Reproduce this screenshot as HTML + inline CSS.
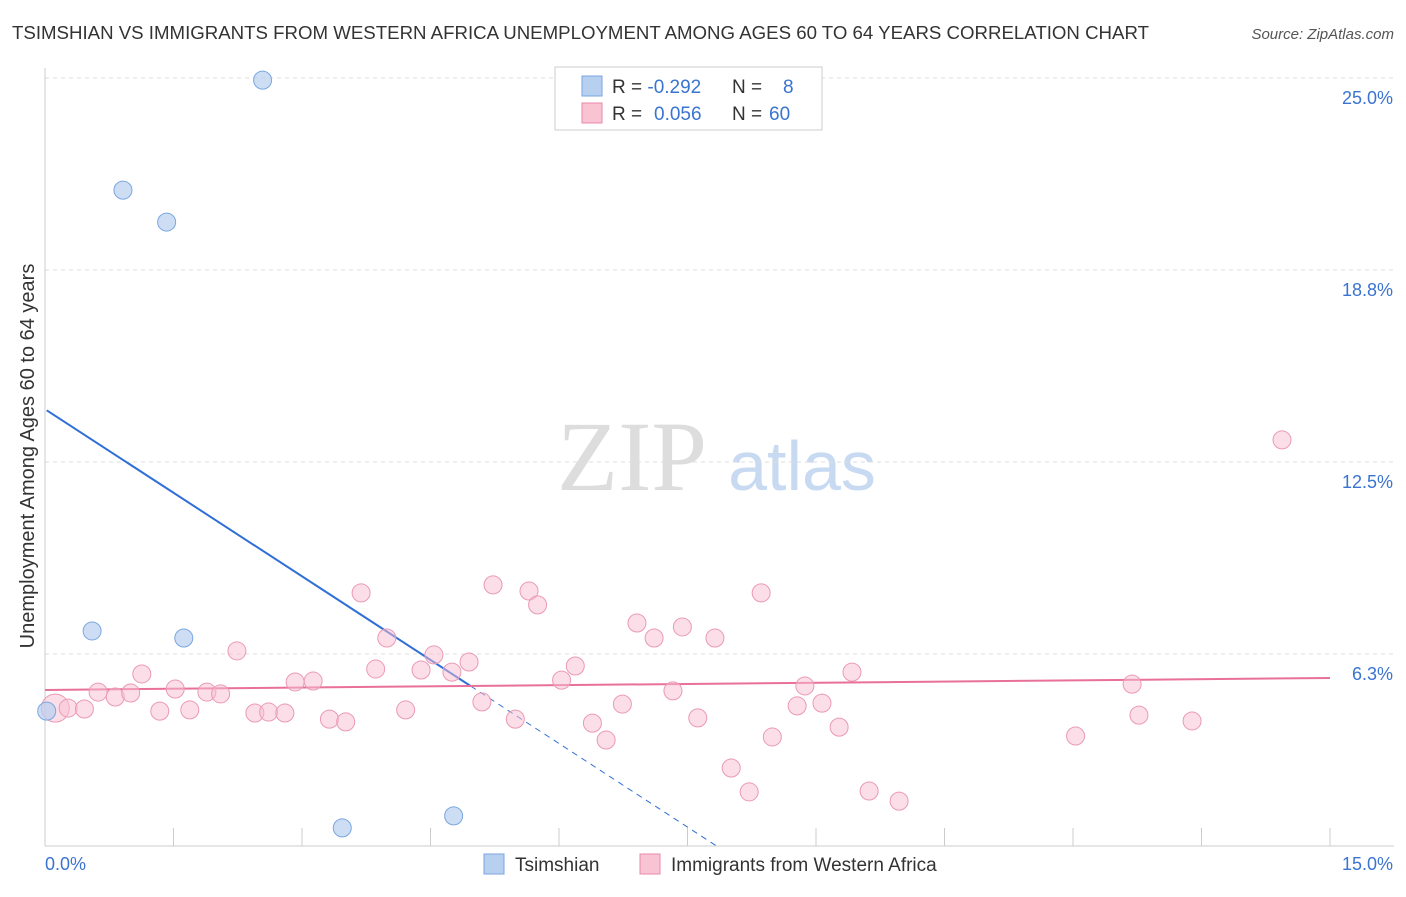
<!DOCTYPE html>
<html><head><meta charset="utf-8"><style>
body{margin:0;background:#fff;font-family:"Liberation Sans",sans-serif;}
</style></head><body>
<svg width="1406" height="892" xmlns="http://www.w3.org/2000/svg" id="chart" font-family="Liberation Sans, sans-serif">
<text x="12" y="39" font-size="18.6" textLength="1137" lengthAdjust="spacingAndGlyphs" fill="#333">TSIMSHIAN VS IMMIGRANTS FROM WESTERN AFRICA UNEMPLOYMENT AMONG AGES 60 TO 64 YEARS CORRELATION CHART</text>
<text x="1394" y="39" font-size="15" fill="#555" font-style="italic" text-anchor="end">Source: ZipAtlas.com</text>
<text x="632" y="490" font-size="100" fill="#ddd" font-family="Liberation Serif, serif" text-anchor="middle">ZIP</text>
<text x="802" y="490" font-size="70" fill="#c8daf2" text-anchor="middle">atlas</text>
<text transform="translate(34,456) rotate(-90)" font-size="20" fill="#333" text-anchor="middle">Unemployment Among Ages 60 to 64 years</text>
<g id="grid"></g><g id="axes"></g><g id="lines"></g><g id="points"></g>
<g>
<rect x="555" y="67" width="267" height="63" fill="#fff" stroke="#ccc"/>
<rect x="582" y="76" width="20" height="20" fill="#b8d0f0" stroke="#7aa6e0"/>
<rect x="582" y="103" width="20" height="20" fill="#f8c4d4" stroke="#e88aa8"/>
<text x="612" y="93" font-size="19" fill="#333">R = <tspan fill="#3a74d0">-0.292</tspan><tspan x="732">N = </tspan><tspan x="783" fill="#3a74d0">8</tspan></text>
<text x="612" y="120" font-size="19" fill="#333">R = <tspan x="654" fill="#3a74d0">0.056</tspan><tspan x="732">N = </tspan><tspan x="769" fill="#3a74d0">60</tspan></text>
</g>
<g>
<rect x="484" y="854" width="20" height="20" fill="#b8d0f0" stroke="#7aa6e0"/>
<text x="515" y="871" font-size="19" fill="#333">Tsimshian</text>
<rect x="640" y="854" width="20" height="20" fill="#f8c4d4" stroke="#e88aa8"/>
<text x="671" y="871" font-size="19" fill="#333">Immigrants from Western Africa</text>
</g>
</svg>
<script>
const yTicks=[6.25,12.5,18.75,25];
const yTickLabels=["6.3%","12.5%","18.8%","25.0%"];
const xTicks=[0,1.5,3,4.5,6,7.5,9,10.5,12,13.5,15];
const tsX=[0.02,0.55,0.91,1.42,1.62,2.54,3.47,4.77];
const tsY=[4.39,7.00,21.35,20.31,6.77,24.93,0.59,0.98];
const waX=[0.12,0.27,0.46,0.62,0.82,1.00,1.13,1.34,1.52,1.69,1.89,2.05,2.24,2.45,2.61,2.80,2.92,3.13,3.32,3.51,3.69,3.86,3.99,4.21,4.39,4.54,4.75,4.95,5.10,5.23,5.49,5.65,5.75,6.03,6.19,6.39,6.55,6.74,6.91,7.11,7.33,7.44,7.62,7.82,8.01,8.22,8.36,8.49,8.78,8.87,9.07,9.27,9.42,9.62,9.97,12.03,12.69,12.77,13.39,14.44];
const waY=[4.49,4.49,4.46,5.01,4.85,4.98,5.60,4.39,5.11,4.43,5.01,4.95,6.35,4.33,4.36,4.33,5.34,5.37,4.13,4.04,8.24,5.76,6.77,4.43,5.73,6.22,5.66,5.99,4.69,8.50,4.13,8.30,7.85,5.40,5.86,4.00,3.45,4.62,7.26,6.77,5.05,7.13,4.17,6.77,2.54,1.76,8.24,3.55,4.56,5.21,4.65,3.87,5.66,1.79,1.46,3.58,5.27,4.26,4.07,13.22];
const tsTrend=[14.22,-1.814];
const waTrend=[5.08,5.47];
const X=v=>45+v*1285/15, Y=v=>846-v*192/6.25;
const NS="http://www.w3.org/2000/svg";
function mk(t,a,p){const e=document.createElementNS(NS,t);for(const k in a)e.setAttribute(k,a[k]);document.getElementById(p).appendChild(e);return e;}
yTicks.forEach((t,i)=>{
 const l=mk('line',{x1:45,x2:1394,y1:Y(t),y2:Y(t),stroke:'#ddd','stroke-dasharray':'4,4'},'grid');
 
 
 const tx=mk('text',{x:1393,y:Y(t)+26,'font-size':18,fill:'#3a74d0','text-anchor':'end'},'grid');
 tx.textContent=yTickLabels[i];
 
 
});
const ax=mk('line',{x1:45,x2:45,y1:68,y2:846,stroke:'#ccc'},'axes');


const bx=mk('line',{x1:45,x2:1394,y1:846,y2:846,stroke:'#ccc'},'axes');


xTicks.forEach(t=>{const l=mk('line',{x1:X(t),x2:X(t),y1:828,y2:846,stroke:'#ccc'},'axes');
 
 });
const x0=mk('text',{x:45,y:870,'font-size':18,fill:'#3a74d0'},'axes');x0.textContent='0.0%';


const x1=mk('text',{x:1393,y:870,'font-size':18,fill:'#3a74d0','text-anchor':'end'},'axes');x1.textContent='15.0%';


waX.forEach((v,i)=>{const c=mk('circle',{cx:X(v),cy:Y(waY[i]),r:i==0?14:9,fill:'rgba(248,190,210,0.5)',stroke:'#eb9ab4','stroke-width':1},'points');
 
 });
tsX.forEach((v,i)=>{const c=mk('circle',{cx:X(v),cy:Y(tsY[i]),r:9,fill:'rgba(184,208,240,0.7)',stroke:'#7aa6e0','stroke-width':1},'points');
 
 });
const ty=x=>tsTrend[0]+tsTrend[1]*x;
const l1=mk('line',{x1:X(0.02),y1:Y(ty(0.02)),x2:X(4.97),y2:Y(ty(4.97)),stroke:'#2f6fd6','stroke-width':2},'lines');


const xe=-tsTrend[0]/tsTrend[1];
const l2=mk('line',{x1:X(4.97),y1:Y(ty(4.97)),x2:X(xe),y2:Y(0),stroke:'#2f6fd6','stroke-width':1,'stroke-dasharray':'6,5'},'lines');


const l3=mk('line',{x1:X(0),y1:Y(waTrend[0]),x2:X(15),y2:Y(waTrend[1]),stroke:'#e8709a','stroke-width':2},'lines');


</script>
</body></html>
